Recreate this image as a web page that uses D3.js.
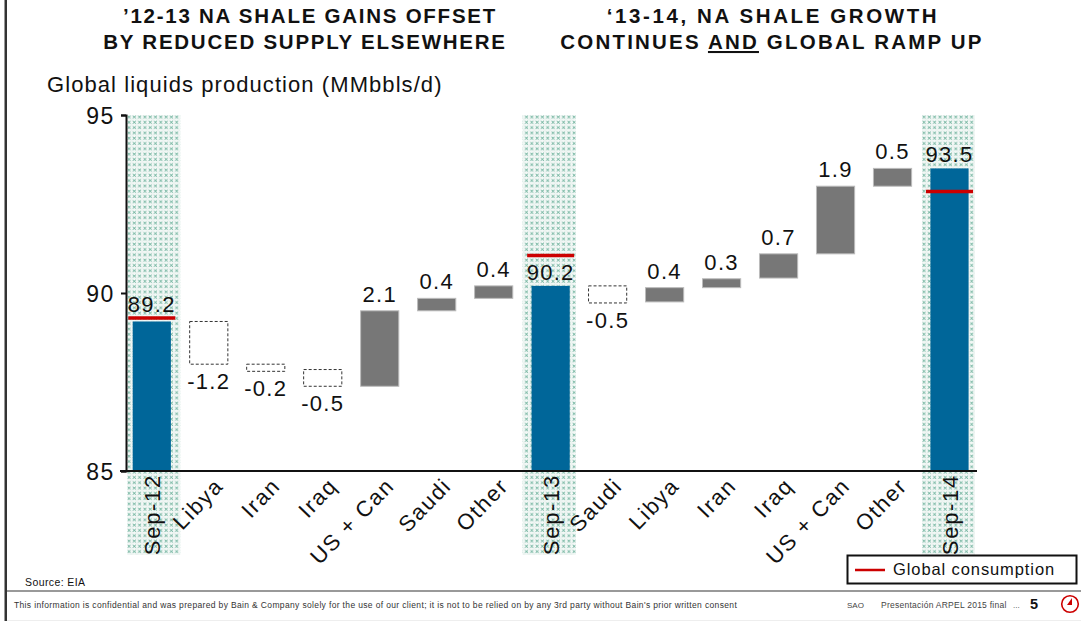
<!DOCTYPE html>
<html><head><meta charset="utf-8">
<script src="https://cdn.jsdelivr.net/npm/d3@7"></script>
<style>html,body{margin:0;padding:0;background:#fff;overflow:hidden}svg{display:block}text{font-family:"Liberation Sans",Arial,sans-serif;fill:#111}</style>
</head><body><svg id="c" width="1081" height="621"></svg>
<script>
const categories=["Sep-12","Libya","Iran","Iraq","US + Can","Saudi","Other","Sep-13","Saudi ","Libya ","Iran ","Iraq ","US + Can ","Other ","Sep-14"];
const labels=["89.2","-1.2","-0.2","-0.5","2.1","0.4","0.4","90.2","-0.5","0.4","0.3","0.7","1.9","0.5","93.5"];
const lows=[85,88.0,87.8,87.38,87.38,89.5,89.85,85,89.72,89.75,90.15,90.42,91.1,93.0,85];
const highs=[89.2,89.2,88.0,87.85,89.5,89.85,90.2,90.2,90.2,90.15,90.4,91.1,93.0,93.5,93.5];
const kinds=["total","down","down","down","up","up","up","total","down","up","up","up","up","up","total"];
const consumption=[["Sep-12",89.3],["Sep-13",91.05],["Sep-14",92.85]];
const yTicks=[85,90,95];
const titleLeft=["’12-13 NA SHALE GAINS OFFSET","BY REDUCED SUPPLY ELSEWHERE"];
const titleRight=["‘13-14, NA SHALE GROWTH"];

const svg=d3.select("#c");
const x=d3.scaleBand().domain(categories).range([123.3,978]).paddingInner(0.33).paddingOuter(0.165);
const y=d3.scaleLinear().domain([85,95]).range([471,115]);
const cx=d=>x(d)+x.bandwidth()/2;

const defs=svg.append("defs");
const p=defs.append("pattern").attr("id","hatch").attr("patternUnits","userSpaceOnUse").attr("width",5.3).attr("height",5.3).attr("x",127).attr("y",115);
p.append("rect").attr("width",5.3).attr("height",5.3).attr("fill","#fff");
p.append("path").attr("d","M0.5 0.5L3.5 3.5M3.5 0.5L0.5 3.5").attr("stroke","#7ab8a4").attr("stroke-width",0.9).attr("fill","none");
p.append("rect").attr("x",4.2).attr("width",0.5).attr("height",5.3).attr("fill","#d8e8e2");
p.append("rect").attr("y",4.2).attr("width",5.3).attr("height",0.5).attr("fill","#d8e8e2");

// frame
svg.append("rect").attr("x",4.5).attr("y",0).attr("width",2.5).attr("height",621).attr("fill","#333");
svg.append("rect").attr("x",7).attr("y",590).attr("width",1074).attr("height",2).attr("fill","#999");
svg.append("rect").attr("x",7).attr("y",620).attr("width",1074).attr("height",1).attr("fill","#eee");

// hatch columns (each column sits slightly off its bar in the reference)
const hatchShift={"Sep-12":2,"Sep-13":-1.5,"Sep-14":-1};
Object.keys(hatchShift).forEach(c=>{
  svg.append("rect").attr("x",cx(c)+hatchShift[c]-26.5).attr("y",115).attr("width",53).attr("height",440).attr("fill","url(#hatch)");
});

// bars
const rows=categories.map((c,i)=>({c,lo:lows[i],hi:highs[i],k:kinds[i],t:labels[i]}));
const g=svg.append("g");
g.selectAll("rect").data(rows).join("rect")
 .attr("x",d=>x(d.c)).attr("width",x.bandwidth())
 .attr("y",d=>y(d.hi)).attr("height",d=>y(d.lo)-y(d.hi))
 .attr("fill",d=>d.k==="total"?"#006699":d.k==="up"?"#777777":"#fff")
 .attr("stroke",d=>d.k==="down"?"#333":d.k==="up"?"#bbb":"none")
 .attr("stroke-width",1)
 .attr("stroke-dasharray",d=>d.k==="down"?"3 2":null);

// consumption
svg.append("g").selectAll("line").data(consumption).join("line")
 .attr("x1",d=>cx(d[0])-23.5).attr("x2",d=>cx(d[0])+23.5)
 .attr("y1",d=>y(d[1])).attr("y2",d=>y(d[1]))
 .attr("stroke","#cc0000").attr("stroke-width",3.5);

// value labels
svg.append("g").selectAll("text").data(rows).join("text")
 .attr("x",d=>cx(d.c)).attr("text-anchor","middle")
 .attr("font-size",22).attr("letter-spacing",1.3)
 .attr("y",d=>d.k==="down"?y(d.lo)+25:(d.c==="Sep-13"||d.c==="Sep-14"?y(d.hi)-6:y(d.hi)-9))
 .text(d=>d.t);

// axes
const ya=svg.append("g").attr("transform","translate(126,0)").call(d3.axisLeft(y).tickValues(yTicks).tickSize(5).tickFormat(d3.format("d")));
ya.selectAll("path,line").attr("stroke","#111").attr("stroke-width",2);
ya.selectAll("text").attr("font-size",23).attr("letter-spacing",1.6).attr("x",-11).attr("dy","0.35em").style("font-family",'"Liberation Sans"').style("fill","#111");
const xa=svg.append("g").attr("transform","translate(0,471)").call(d3.axisBottom(x).tickSize(0).tickFormat(d=>d.trim()));
xa.select("path").attr("stroke","#111").attr("stroke-width",2).attr("d","M120 0H977");
xa.selectAll("text").attr("font-size",22).attr("letter-spacing",1.7).attr("dy",null).attr("y",null)
 .style("font-family",'"Liberation Sans"').style("fill","#111")
 .attr("text-anchor","end")
 .attr("transform",d=>d.startsWith("Sep")?"translate(8.5,3) rotate(-90)":"translate(16,16) rotate(-46)");

// titles
const T=(s,xp,yp,fs,o={})=>svg.append("text").attr("x",xp).attr("y",yp).attr("font-size",fs)
 .attr("font-weight",o.b?"bold":null).attr("letter-spacing",o.ls||0).attr("text-anchor",o.a||"start").style("fill",o.c||"#111").text(s);
T(titleLeft[0],310,23,20.5,{b:1,ls:1.75,a:"middle"});
T(titleLeft[1],305,49,20.5,{b:1,ls:1.75,a:"middle"});
T(titleRight[0],773,23,20.5,{b:1,ls:2.6,a:"middle"});
const t2=svg.append("text").attr("x",772).attr("y",49).attr("font-size",20.5).attr("font-weight","bold").attr("letter-spacing",2.2).attr("text-anchor","middle");
t2.append("tspan").text("CONTINUES ");
t2.append("tspan").attr("text-decoration","underline").text("AND");
t2.append("tspan").text(" GLOBAL RAMP UP");
T("Global liquids production (MMbbls/d)",47,92,22,{ls:1.07});
T("Source:  EIA",25,586,10.5,{ls:0.4});
T("This information is confidential and was prepared by Bain & Company solely for the use of our client; it is not to be relied on by any 3rd party without Bain's prior written consent",14,608,8.5,{ls:0.35,c:"#333"});
T("SAO",847,608,8,{c:"#444"});
T("Presentación ARPEL 2015 final",881,608,8.5,{c:"#444",ls:0.25});
T("...",1013,608,8,{c:"#444"});
T("5",1030,609,14.5,{b:1});

// legend
svg.append("rect").attr("x",847.5).attr("y",555.5).attr("width",229).attr("height",28).attr("fill","#fff").attr("stroke","#111").attr("stroke-width",2);
svg.append("line").attr("x1",855).attr("x2",885).attr("y1",570).attr("y2",570).attr("stroke","#cc0000").attr("stroke-width",2.5);
T("Global consumption",893,575,16.5,{ls:0.9});

// logo
svg.append("circle").attr("cx",1070).attr("cy",604).attr("r",8.3).attr("fill","none").attr("stroke","#cc0000").attr("stroke-width",1.6);
svg.append("path").attr("d","M1072 598L1072 605L1067 605Z").attr("fill","#cc0000");
</script></body></html>
